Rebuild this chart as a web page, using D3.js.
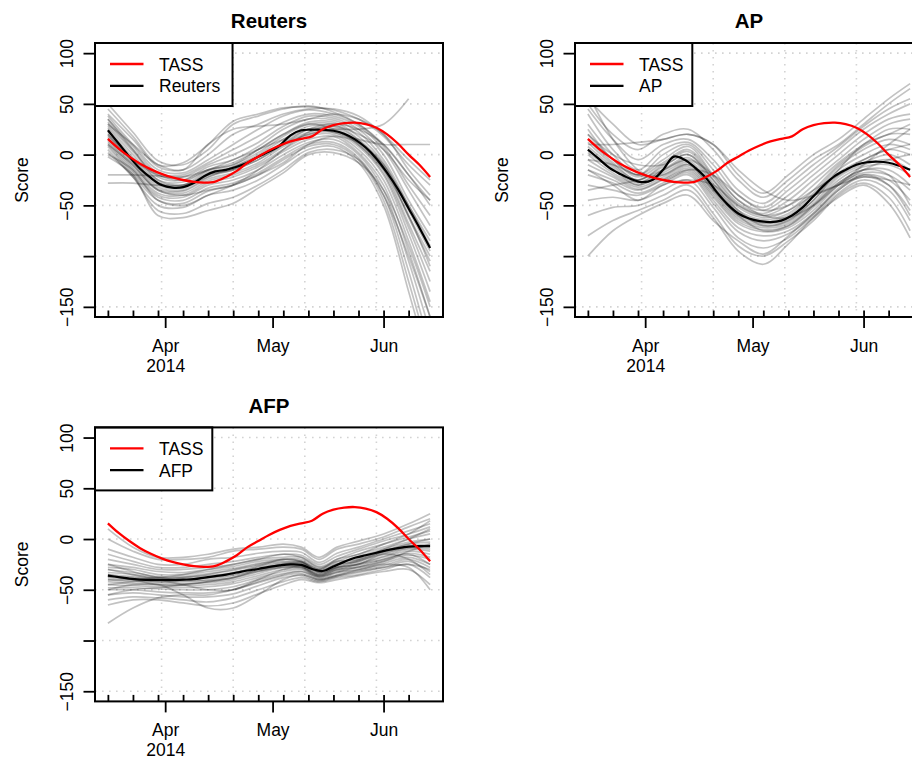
<!DOCTYPE html>
<html><head><meta charset="utf-8">
<script src="https://cdn.jsdelivr.net/npm/d3@7"></script>
<style>
body{margin:0;background:#fff}
text{font-family:"Liberation Sans",Arial,Helvetica,sans-serif}
</style>
</head><body>
<svg id="chart" width="912" height="759"></svg>
<script>
// ---------------- data ----------------
const startDate = "2014-03-16";
const panelTitles = ["Reuters", "AP", "AFP"];
const legendLabels = ["TASS"]; // second entry is the agency name
const yTicks = [100, 50, 0, -50, -100, -150];
const yTickLabels = ["100", "50", "0", "\u221250", "", "\u2212150"];
const gridDates = ["2014-03-31", "2014-04-20", "2014-05-10", "2014-05-30"];
const monthTicks = ["2014-04-01", "2014-05-01", "2014-06-01"];
const monthLabels = ["Apr", "May", "Jun"];
const yearLabel = "2014";
const weekTicks = ["2014-03-16","2014-03-23","2014-03-30","2014-04-06","2014-04-13","2014-04-20",
  "2014-04-27","2014-05-04","2014-05-11","2014-05-18","2014-05-25","2014-06-01","2014-06-08"];
const yLabel = "Score";

// main lines: day offsets from startDate
const mainDays = [0,3,6,9,12,15,18,21,24,27,30,33,36,39,42,45,48,51,54,57,60,63,66,69,72,75,78,81,84,87,90];
const tass =      [15.5,6,-2,-9,-14.5,-19,-22.5,-25,-26.8,-27.5,-26.5,-22,-16,-8,-2,4,9,13,15.5,18,25,29,31,31.5,30,26.5,20,11,0,-10,-22];
const reutersMain=[24,11,-2,-14,-23,-30,-32.5,-32,-28,-21,-16.5,-15,-12,-8,-2,3,9,19,24,24.5,24.5,23.5,20.5,15,7,-4,-18,-34,-53,-72,-92];
const apMain =    [5,-4,-13,-19,-24,-27,-25,-15,-2,-5,-13,-23,-37,-49,-58,-63,-65.5,-66.5,-65,-60,-52,-41,-30,-21,-15,-10,-7.5,-7,-8,-11,-15];
const afpMain =   [-36,-37.5,-39,-40,-40.5,-40.5,-40.5,-40,-39.5,-38,-36.5,-35,-33,-31,-29.5,-27.5,-26,-25,-25.5,-29.5,-31.5,-27,-22.5,-18.5,-16,-13.5,-11,-9,-7.5,-7,-7];

// bootstrap curves (gray)
const bootDays = [0,7,14,21,28,35,42,49,56,63,70,77,84,90];
const reutersBoot = [
  [50,22,-6,-10,5,30,38,45,48,42,30,10,-20,-45],
  [45,18,-10,-8,10,33,40,46,47,44,35,18,-10,-30],
  [40,15,-12,-15,0,20,30,40,45,45,38,20,-5,-25],
  [38,10,-15,-18,-5,10,25,38,44,40,30,8,-30,-60],
  [35,8,-18,-20,-8,5,18,32,40,38,28,5,-35,-70],
  [32,5,-20,-22,-10,0,12,28,38,36,25,0,-45,-80],
  [30,3,-22,-25,-12,-5,8,25,35,34,22,-5,-50,-90],
  [28,0,-25,-27,-15,-8,5,20,32,32,18,-8,-55,-95],
  [26,-3,-27,-30,-16,-10,2,18,30,30,15,-10,-60,-100],
  [24,-5,-28,-32,-18,-12,0,15,28,28,14,-12,-62,-105],
  [22,-7,-30,-33,-20,-14,-2,12,25,26,12,-15,-68,-115],
  [20,-8,-32,-35,-22,-15,-5,10,22,24,10,-18,-72,-125],
  [18,-10,-34,-36,-24,-18,-8,8,20,22,8,-20,-78,-135],
  [16,-12,-35,-38,-26,-20,-10,5,18,20,5,-25,-85,-145],
  [14,-14,-38,-40,-28,-22,-12,3,15,18,2,-30,-95,-160],
  [12,-16,-40,-42,-30,-25,-15,0,12,15,0,-35,-105,-175],
  [10,-18,-42,-45,-33,-28,-18,-3,10,12,-3,-40,-115,-190],
  [8,-20,-45,-48,-36,-30,-20,-5,8,10,-5,-45,-125,-200],
  [5,-22,-50,-52,-40,-35,-25,-10,5,8,-8,-50,-135,-210],
  [2,-22,-55,-58,-48,-42,-30,-15,2,5,-5,-40,-100,-160],
  [-2,-20,-60,-62,-55,-48,-33,-18,0,2,-8,-35,-90,-150],
  [0,-15,-45,-50,-40,-30,-15,5,22,28,20,5,-25,-45],
  [30,10,-10,-15,10,25,28,30,35,40,35,20,-15,-40],
  [-20,-20,-21,-22,-15,-5,5,15,25,22,15,10,10,10],
  [-28,-28,-30,-30,-22,-12,-2,10,20,25,25,30,55,null],
  [35,5,-25,-30,-20,-15,-5,10,25,30,25,10,-20,-50],
  [20,-5,-20,-25,-15,-10,5,20,30,25,10,-15,-60,-110],
  [10,-10,-35,-40,-35,-30,-20,-8,10,18,12,-10,-50,-85]
];
const apBoot = [
  [55,30,10,15,20,10,-20,-38,-20,0,15,35,55,70],
  [50,20,5,20,25,5,-25,-42,-25,-5,10,30,50,65],
  [45,15,-5,10,15,-5,-35,-48,-30,-10,8,28,45,55],
  [40,5,-15,5,12,-10,-40,-52,-35,-15,5,25,40,50],
  [30,0,-20,0,10,-15,-45,-55,-40,-20,0,20,35,40],
  [25,-5,-20,-5,8,-20,-48,-58,-45,-25,-5,15,30,35],
  [20,-5,-22,-8,5,-22,-50,-60,-50,-30,-8,10,25,25],
  [15,-8,-25,-10,3,-25,-52,-62,-55,-35,-10,8,20,20],
  [12,-10,-25,-12,0,-28,-55,-64,-58,-38,-12,5,15,10],
  [8,-12,-27,-15,-3,-30,-57,-66,-60,-40,-15,0,10,5],
  [5,-14,-28,-16,-6,-32,-58,-67,-62,-42,-18,-5,5,0],
  [2,-15,-30,-18,-8,-34,-60,-68,-64,-45,-20,-8,0,-10],
  [0,-18,-30,-20,-10,-36,-62,-70,-66,-48,-22,-10,-5,-15],
  [-5,-20,-32,-22,-12,-38,-64,-72,-68,-50,-25,-12,-10,-20],
  [-10,-22,-34,-24,-14,-40,-66,-74,-70,-52,-28,-15,-15,-30],
  [-15,-25,-35,-25,-16,-42,-68,-76,-72,-55,-30,-18,-20,-35],
  [-20,-28,-38,-28,-18,-45,-72,-80,-75,-58,-33,-20,-25,-45],
  [-30,-35,-40,-30,-20,-48,-76,-85,-78,-60,-35,-22,-30,-55],
  [-45,-42,-45,-35,-25,-52,-82,-92,-82,-62,-38,-25,-35,-65],
  [-60,-52,-50,-40,-30,-58,-90,-100,-85,-65,-40,-28,-42,-75],
  [-80,-65,-55,-45,-35,-62,-95,-108,-88,-62,-42,-30,-48,-82],
  [-100,-75,-60,-48,-40,-65,-85,-98,-80,-58,-35,-20,-30,-60],
  [-15,-30,-45,-30,-25,-30,-50,-60,-55,-40,-30,-22,-25,-30],
  [60,15,-15,-25,-15,-20,-40,-55,-50,-35,-20,-5,5,10],
  [10,10,12,15,20,10,-15,-35,-45,-40,-30,-15,-5,0],
  [-35,-30,-25,-15,-5,-20,-45,-60,-62,-50,-30,-10,10,25],
  [20,0,-10,-10,0,-25,-55,-70,-65,-45,-15,10,20,30],
  [-5,-10,-20,-20,-10,-35,-60,-75,-70,-50,-28,-15,-20,-50]
];
const afpBootDays = [0,7,14,21,28,35,42,49,54,59,64,70,77,84,90];
const afpBoot = [
  [10,-8,-18,-18,-15,-10,-8,-5,-8,-18,-8,-2,5,15,25],
  [0,-12,-20,-20,-18,-12,-10,-8,-10,-20,-10,-5,2,12,20],
  [-10,-18,-25,-25,-20,-18,-14,-12,-13,-23,-14,-8,0,8,15],
  [-15,-22,-28,-28,-25,-22,-18,-15,-16,-25,-17,-10,-2,5,12],
  [-20,-25,-30,-30,-28,-25,-20,-18,-18,-27,-20,-12,-5,2,8],
  [-25,-28,-32,-33,-30,-27,-22,-20,-20,-29,-22,-15,-8,0,5],
  [-28,-30,-35,-35,-32,-29,-24,-22,-22,-30,-24,-17,-10,-3,0],
  [-30,-33,-37,-37,-34,-31,-26,-23,-23,-31,-25,-18,-12,-5,-3],
  [-33,-35,-38,-38,-36,-33,-28,-24,-24,-32,-27,-20,-13,-7,-5],
  [-35,-37,-39,-40,-38,-35,-30,-25,-25,-33,-28,-21,-14,-8,-8],
  [-37,-38,-40,-41,-40,-36,-31,-26,-26,-34,-29,-22,-15,-9,-10],
  [-38,-40,-42,-42,-41,-38,-32,-27,-27,-35,-30,-24,-17,-10,-12],
  [-40,-42,-43,-44,-43,-40,-34,-28,-28,-36,-31,-25,-18,-12,-15],
  [-42,-44,-45,-46,-45,-42,-36,-30,-29,-37,-32,-27,-20,-14,-18],
  [-45,-46,-47,-48,-47,-44,-38,-32,-30,-38,-33,-28,-22,-16,-20],
  [-48,-48,-49,-50,-50,-47,-40,-34,-32,-39,-35,-30,-24,-18,-25],
  [-50,-50,-52,-53,-53,-50,-43,-36,-34,-40,-36,-31,-26,-20,-28],
  [-55,-53,-55,-57,-57,-54,-46,-38,-36,-41,-37,-33,-28,-22,-32],
  [-60,-57,-58,-60,-62,-58,-50,-42,-38,-42,-38,-35,-30,-25,-38],
  [-65,-60,-60,-63,-66,-63,-54,-45,-40,-43,-40,-36,-32,-30,-45],
  [-83,-68,-58,-55,-55,-50,-42,-35,-32,-37,-33,-30,-25,-28,-50],
  [-50,-45,-45,-55,-68,-68,-55,-40,-35,-40,-36,-32,-28,-25,-30],
  [-30,-35,-40,-45,-50,-50,-40,-30,-27,-35,-28,-25,-15,-20,-35],
  [-40,-40,-38,-35,-30,-25,-20,-15,-18,-28,-22,-20,-10,0,10],
  [-45,-42,-40,-38,-35,-30,-25,-20,-22,-30,-20,-15,-5,5,18],
  [-35,-40,-45,-45,-42,-38,-30,-25,-23,-33,-28,-25,-20,-15,-25],
  [-55,-50,-48,-45,-42,-38,-32,-28,-28,-36,-30,-28,-22,-12,-5],
  [-25,-32,-38,-40,-38,-34,-27,-20,-22,-32,-25,-22,-12,-5,0]
];

// ---------------- layout ----------------
const panels = [
  {title: panelTitles[0], main: reutersMain, bootDays: bootDays, boot: reutersBoot, dx: 0,   dy: 0},
  {title: panelTitles[1], main: apMain,      bootDays: bootDays, boot: apBoot,      dx: 480, dy: 0},
  {title: panelTitles[2], main: afpMain,     bootDays: afpBootDays, boot: afpBoot,  dx: 0,   dy: 384.4}
];
const plot = {left: 95, right: 443, top: 43, bottom: 317};
const fontSize = 17.5;

const parse = d3.utcParse("%Y-%m-%d");
const t0 = parse(startDate);
const toDate = d => new Date(+t0 + d * 864e5);
const span = mainDays[mainDays.length - 1] - mainDays[0];
const xPad = 0.04 * span;
const x = d3.scaleUtc().domain([toDate(mainDays[0] - xPad), toDate(mainDays[mainDays.length-1] + xPad)])
  .range([plot.left, plot.right]);
const yExt = d3.extent(yTicks), yPad = 0.04 * (yExt[1] - yExt[0]);
const y = d3.scaleLinear().domain([yExt[0] - yPad, yExt[1] + yPad]).range([plot.bottom, plot.top]);

const svg = d3.select("#chart");
svg.append("rect").attr("width", 912).attr("height", 759).attr("fill", "#fff");
svg.append("defs").append("clipPath").attr("id", "plotclip")
  .append("rect").attr("x", plot.left).attr("y", plot.top)
  .attr("width", plot.right - plot.left).attr("height", plot.bottom - plot.top);

const line = d3.line()
  .defined(d => d.v != null)
  .x(d => x(toDate(d.d))).y(d => y(d.v))
  .curve(d3.curveCatmullRom.alpha(0.5));

panels.forEach(p => {
  const g = svg.append("g").attr("transform", `translate(${p.dx},${p.dy})`);

  // grid
  const grid = g.append("g").attr("stroke", "#d3d3d3").attr("stroke-width", 1.6)
    .attr("stroke-dasharray", "1.6,5.4");
  grid.selectAll("line.h").data(yTicks).join("line")
    .attr("x1", plot.left).attr("x2", plot.right)
    .attr("y1", d => y(d)).attr("y2", d => y(d));
  grid.selectAll("line.v").data(gridDates).join("line")
    .attr("x1", d => x(parse(d))).attr("x2", d => x(parse(d)))
    .attr("y1", plot.top).attr("y2", plot.bottom);

  const lines = g.append("g").attr("clip-path", "url(#plotclip)").attr("fill", "none");
  // bootstrap curves
  lines.selectAll("path.boot").data(p.boot).join("path")
    .attr("d", row => line(row.map((v, i) => ({d: p.bootDays[i], v}))))
    .attr("stroke", "#000").attr("stroke-opacity", 0.24).attr("stroke-width", 1.7);
  // main agency line
  lines.append("path").attr("d", line(p.main.map((v, i) => ({d: mainDays[i], v}))))
    .attr("stroke", "#000").attr("stroke-width", 2.2);
  // TASS
  lines.append("path").attr("d", line(tass.map((v, i) => ({d: mainDays[i], v}))))
    .attr("stroke", "#ff0000").attr("stroke-width", 2.3);

  // legend
  const lg = g.append("g");
  const lgRect = lg.append("rect").attr("x", plot.left).attr("y", plot.top)
    .attr("height", 63).attr("fill", "#fff").attr("stroke", "#000").attr("stroke-width", 2);
  const entries = [{label: legendLabels[0], color: "#ff0000"}, {label: p.title, color: "#000"}];
  let maxW = 0;
  entries.forEach((e, i) => {
    const cy = 64 + i * 21.8;
    lg.append("line").attr("x1", 110).attr("x2", 143.5).attr("y1", cy).attr("y2", cy)
      .attr("stroke", e.color).attr("stroke-width", 2.3);
    const t = lg.append("text").attr("x", 159).attr("y", cy + 6.5)
      .attr("font-size", fontSize).text(e.label);
    maxW = Math.max(maxW, t.node().getComputedTextLength());
  });
  lgRect.attr("width", 64 + 1.2 * maxW);

  // y axis
  const ya = g.append("g").attr("transform", `translate(${plot.left},0)`)
    .call(d3.axisLeft(y).tickValues(yTicks).tickSize(11.5)
      .tickFormat((d, i) => yTickLabels[i]));
  ya.select(".domain").remove();
  ya.selectAll(".tick line").attr("stroke", "#000").attr("stroke-width", 1.8);
  ya.selectAll(".tick text").attr("transform", "rotate(-90)")
    .attr("x", 0).attr("y", -22).attr("dy", null)
    .attr("text-anchor", "middle").attr("font-size", fontSize).attr("font-family", null).attr("fill", "#000");

  // x axis: minor weekly ticks (inward)
  const xm = g.append("g").attr("transform", `translate(0,${plot.bottom})`)
    .call(d3.axisBottom(x).tickValues(weekTicks.map(parse)).tickSize(-6.5).tickFormat(""));
  xm.select(".domain").remove();
  xm.selectAll(".tick line").attr("stroke", "#000").attr("stroke-width", 1.8);
  // x axis: major month ticks
  const xa = g.append("g").attr("transform", `translate(0,${plot.bottom})`)
    .call(d3.axisBottom(x).tickValues(monthTicks.map(parse)).tickSize(11)
      .tickFormat((d, i) => monthLabels[i]));
  xa.select(".domain").remove();
  xa.selectAll(".tick line").attr("stroke", "#000").attr("stroke-width", 1.8);
  xa.selectAll(".tick text").attr("y", 34.7).attr("dy", null)
    .attr("font-size", fontSize).attr("font-family", null).attr("fill", "#000");
  xa.select(".tick").append("text").attr("y", 54.7).attr("fill", "#000")
    .attr("text-anchor", "middle").attr("font-size", fontSize).text(yearLabel);

  // box
  g.append("rect").attr("x", plot.left).attr("y", plot.top)
    .attr("width", plot.right - plot.left).attr("height", plot.bottom - plot.top)
    .attr("fill", "none").attr("stroke", "#000").attr("stroke-width", 2);

  // title
  g.append("text").attr("x", (plot.left + plot.right) / 2).attr("y", 28.3)
    .attr("text-anchor", "middle").attr("font-size", 20.5).attr("font-weight", "bold").text(p.title);
  // y label
  g.append("text").attr("transform", `translate(28.3,${(plot.top + plot.bottom) / 2}) rotate(-90)`)
    .attr("text-anchor", "middle").attr("font-size", fontSize).text(yLabel);
});
</script>
</body></html>
